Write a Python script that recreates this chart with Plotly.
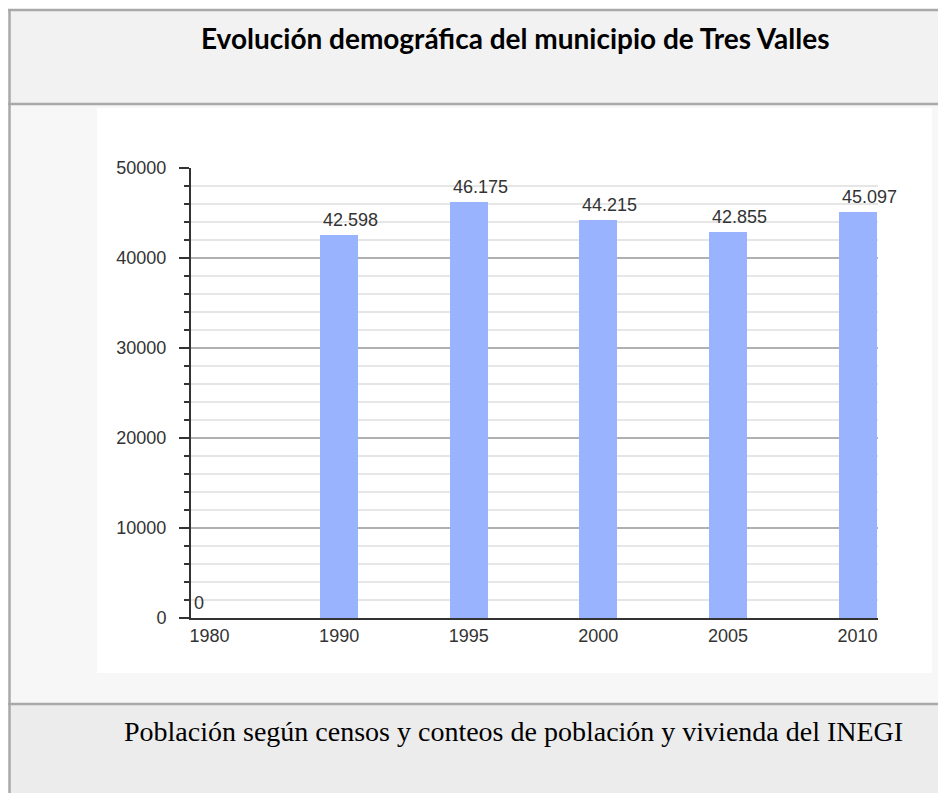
import plotly.graph_objects as go

years = ["1980", "1990", "1995", "2000", "2005", "2010"]
population = [0, 42598, 46175, 44215, 42855, 45097]
title_text = "Evolución demográfica del municipio de Tres Valles"
caption_text = "Población según censos y conteos de población y vivienda del INEGI"

W, H = 938, 793
L, R, T, B = 191, 878, 168, 618  # plot area in pixels


def px(x):
    return (x - L) / (R - L)


def py(y):
    return (B - y) / (B - T)


def fmt(v):
    return f"{v:,}".replace(",", ".")


fig = go.Figure()
fig.add_trace(go.Bar(
    x=list(range(len(years))),
    y=population,
    width=0.293,
    marker=dict(color="#99b3ff", line=dict(width=0)),
    hoverinfo="x+y",
))

shapes = []
border = "#a9a9a9"
RIGHT = 950
BOTTOM = 800
shapes.append(dict(type="rect", xref="paper", yref="paper", x0=px(9), x1=px(RIGHT), y0=py(10), y1=py(104),
                   fillcolor="#f2f2f2", line=dict(width=0), layer="below"))
shapes.append(dict(type="rect", xref="paper", yref="paper", x0=px(9), x1=px(RIGHT), y0=py(104), y1=py(704),
                   fillcolor="#f7f7f7", line=dict(width=0), layer="below"))
shapes.append(dict(type="rect", xref="paper", yref="paper", x0=px(97), x1=px(932), y0=py(108), y1=py(673),
                   fillcolor="#ffffff", line=dict(width=0), layer="below"))
shapes.append(dict(type="rect", xref="paper", yref="paper", x0=px(9), x1=px(RIGHT), y0=py(704), y1=py(BOTTOM),
                   fillcolor="#ececec", line=dict(width=0), layer="below"))
for yy in (10, 104, 704):
    shapes.append(dict(type="line", xref="paper", yref="paper", x0=px(8), x1=px(RIGHT), y0=py(yy), y1=py(yy),
                       line=dict(color=border, width=2.5), layer="below"))
shapes.append(dict(type="line", xref="paper", yref="paper", x0=px(9.5), x1=px(9.5), y0=py(9), y1=py(BOTTOM),
                   line=dict(color=border, width=2.5), layer="below"))

annotations = []
for i, v in enumerate(population):
    annotations.append(dict(x=i, y=v, xref="x", yref="y", text=fmt(v), showarrow=False,
                            xanchor="left", yanchor="middle", xshift=-18, yshift=15,
                            font=dict(family="Liberation Sans, Arial", size=18, color="#333333")))
annotations.append(dict(x=px(515), y=py(38), xref="paper", yref="paper", text="<b>" + title_text + "</b>",
                        showarrow=False, xanchor="center", yanchor="middle",
                        font=dict(family="Lato, Open Sans", size=28, color="#000000")))
annotations.append(dict(x=px(122), y=py(731), xref="paper", yref="paper", text=caption_text,
                        showarrow=False, xanchor="left", yanchor="middle",
                        font=dict(family="Liberation Serif, Times New Roman", size=28, color="#000000")))

fig.update_layout(
    width=W, height=H,
    margin=dict(l=L, r=W - R, t=T, b=H - B, pad=0),
    paper_bgcolor="#ffffff",
    plot_bgcolor="rgba(0,0,0,0)",
    showlegend=False,
    bargap=0,
    shapes=shapes,
    annotations=annotations,
    xaxis=dict(
        tickmode="array", tickvals=list(range(len(years))), ticktext=years,
        range=[-0.143, 5.158], showgrid=False, zeroline=False,
        showline=True, linecolor="#333333", linewidth=2,
        ticks="", ticklabelstandoff=0,
        tickfont=dict(family="Liberation Sans, Arial", size=18, color="#333333"),
    ),
    yaxis=dict(
        range=[0, 50000], tickmode="linear", tick0=0, dtick=10000, tickformat="d",
        showgrid=True, gridcolor="#b0b0b0", gridwidth=1.5,
        zeroline=False, showline=True, linecolor="#333333", linewidth=2,
        ticks="outside", ticklen=10, tickcolor="#333333", tickwidth=2,
        ticklabelstandoff=9,
        minor=dict(dtick=2000, ticks="outside", ticklen=5, tickcolor="#333333", tickwidth=2,
                   showgrid=True, gridcolor="#e6e6e6", gridwidth=2),
        tickfont=dict(family="Liberation Sans, Arial", size=18, color="#333333"),
    ),
)

fig.write_html(
    "out.html",
    config={"displayModeBar": False},
    post_script="document.body.style.margin='0px';document.body.style.overflow='hidden';",
)
